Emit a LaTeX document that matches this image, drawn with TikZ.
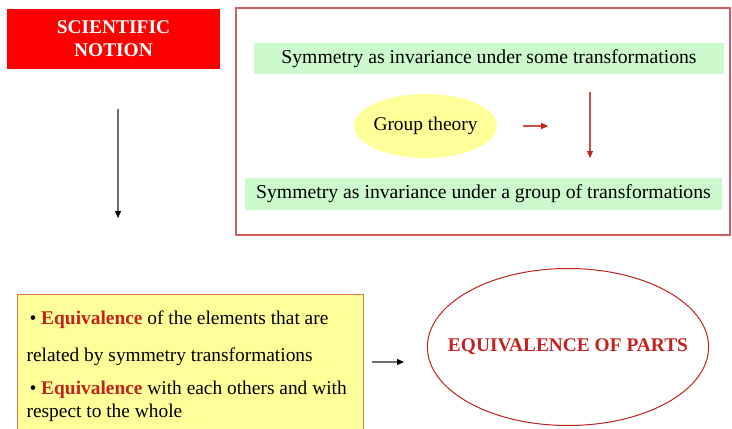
\documentclass[tikz,border=0pt]{standalone}
\usepackage{fontspec}
\setmainfont{Liberation Serif}
\usetikzlibrary{arrows.meta,shapes.geometric}
\definecolor{notionred}{RGB}{255,0,0}
\definecolor{frameRed}{RGB}{205,95,100}
\definecolor{barGreen}{RGB}{204,250,204}
\definecolor{paleYellow}{RGB}{255,255,153}
\definecolor{boxEdge}{RGB}{225,120,85}
\definecolor{wordRed}{RGB}{195,35,30}
\definecolor{shaftGray}{RGB}{110,110,110}

\begin{document}
\begin{tikzpicture}[x=1pt, y=-1pt, font=\fontsize{19.4}{23}\selectfont,
  greenbar/.style={fill=barGreen, minimum height=31, inner sep=0, font=\fontsize{19.7}{23}\selectfont},
  redtip/.style={draw=wordRed!80, line width=1.2pt, -{Triangle[length=7pt,width=6pt,wordRed]}},
  blacktip/.style={draw=shaftGray, line width=1.2pt, -{Triangle[length=7pt,width=6pt,black]}}]
  \clip (0,0) rectangle (732,429);
  \fill[white] (0,0) rectangle (732,429);

  % top left heading
  \node[fill=notionred, text=white, font=\fontsize{19.4}{23}\selectfont\bfseries,
        align=center, minimum width=213, minimum height=60, inner sep=0]
        (notion) at (113.5,38.5) {SCIENTIFIC\\NOTION};

  % framed part on the right
  \node[draw=frameRed, line width=1.2pt, minimum width=494, minimum height=227, inner sep=0]
        (frame) at (483,121.5) {};
  \node[greenbar, minimum width=470] (some) at (489,58.5)
        {Symmetry as invariance under some transformations};
  \node[ellipse, fill=paleYellow, minimum width=143, minimum height=64, inner xsep=-3, inner ysep=0]
        (group) at (425.5,126) {Group theory};
  \node[greenbar, minimum width=477, minimum height=32] (groupsym) at (483.5,194)
        {Symmetry as invariance under a group of transformations};
  \coordinate (down1) at (590,92);
  \coordinate (down2) at (590,158);
  \draw[redtip] ([xshift=26]group.east) -- ([xshift=51]group.east);
  \draw[redtip] (down1) -- (down2);

  % left arrow
  \coordinate (left1) at (118,109);
  \coordinate (left2) at (118,218);
  \draw[blacktip] (left1) -- (left2);

  % bottom part
  \node[draw=boxEdge, line width=1.2pt, fill=paleYellow, anchor=north west,
        text width=328, inner xsep=9, inner ysep=16.5, align=flush left]
        (facts) at (17,294)
        {\hspace*{3pt}\textbullet\ \textcolor{wordRed}{\bfseries Equivalence} of the elements that are\\[14pt]
         related by symmetry transformations\\[10pt]
         \hspace*{3pt}\textbullet\ \textcolor{wordRed}{\bfseries Equivalence} with each others and with\\
         respect to the whole};
  \coordinate (right1) at (372,362);
  \coordinate (right2) at (404,362);
  \draw[blacktip] (right1) -- (right2);
  \node[ellipse, draw=wordRed, line width=1pt, minimum height=157, inner xsep=-20.6, inner ysep=0,
        text=wordRed, font=\fontsize{19.4}{23}\selectfont\bfseries]
        (parts) at (568,347) {EQUIVALENCE OF PARTS};
\end{tikzpicture}
\end{document}
